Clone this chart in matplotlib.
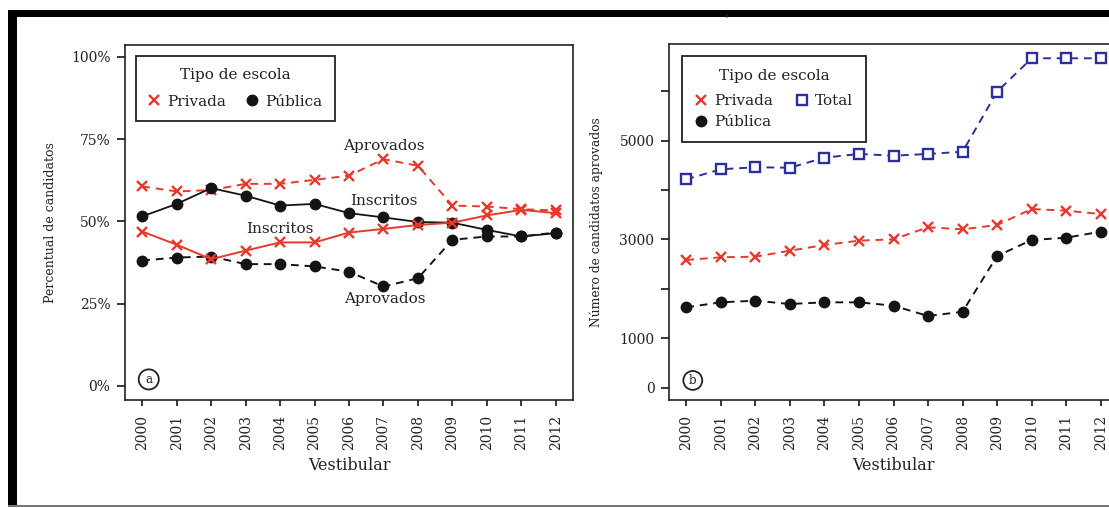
import matplotlib
matplotlib.use("Agg")
import matplotlib.pyplot as plt
from matplotlib.patches import Rectangle
from matplotlib.lines import Line2D

plt.rcParams['font.family'] = ['DejaVu Serif']

years = [2000, 2001, 2002, 2003, 2004, 2005, 2006, 2007, 2008, 2009, 2010, 2011, 2012]
year_labels = [str(y) for y in years]

# Panel a: percent of candidates
privada_inscritos = [46.9, 42.9, 38.5, 41.1, 43.6, 43.6, 46.6, 47.7, 48.9, 49.6, 51.8, 53.5, 52.5]
publica_inscritos = [51.5, 55.3, 60.1, 57.8, 54.8, 55.3, 52.5, 51.2, 49.8, 49.6, 47.4, 45.4, 46.4]
privada_aprovados = [60.6, 59.1, 59.5, 61.4, 61.4, 62.6, 63.9, 68.9, 66.9, 54.8, 54.5, 53.7, 53.3]
publica_aprovados = [38.1, 39.0, 39.3, 37.0, 37.0, 36.3, 34.7, 30.2, 32.7, 44.4, 45.4, 45.4, 46.6]

# Panel b: number of approved candidates
privada_num = [2585, 2640, 2652, 2773, 2889, 2976, 3004, 3247, 3206, 3293, 3617, 3583, 3516]
publica_num = [1627, 1728, 1761, 1694, 1728, 1728, 1660, 1451, 1538, 2666, 2990, 3036, 3158]
total_num = [4218, 4421, 4462, 4453, 4656, 4731, 4696, 4731, 4777, 5992, 6668, 6668, 6668]

pct_ticks = [0, 25, 50, 75, 100]
pct_labels = ['0%', '25%', '50%', '75%', '100%']
num_ticks = [0, 1000, 2000, 3000, 4000, 5000, 6000]
num_labels = ['0', '1000', '', '3000', '', '5000', '']

RED = '#e8372c'
BLACK = '#141414'
BLUE = '#2b2f9c'
TXT = '#222222'

W, H = 1109, 508
fig = plt.figure(figsize=(W / 100, H / 100), dpi=100)
fig.patch.set_facecolor('white')

def fx(px):
    return px / W

def fy(py):
    return 1 - py / H

ax_a = fig.add_axes([fx(125), fy(400), fx(573) - fx(125), fy(45) - fy(400)])
ax_b = fig.add_axes([fx(669), fy(400), fx(1118) - fx(669), fy(44) - fy(400)])

x = list(range(len(years)))
dash = (0, (4, 3))
ms_x = 6.5
ms_o = 7.5

# Panel a
ax_a.plot(x, privada_aprovados, color=RED, ls=dash, lw=1.4, marker='x', ms=ms_x, mew=1.7)
ax_a.plot(x, publica_aprovados, color=BLACK, ls=dash, lw=1.4, marker='o', ms=ms_o)
ax_a.plot(x, publica_inscritos, color=BLACK, ls='-', lw=1.3, marker='o', ms=ms_o)
ax_a.plot(x, privada_inscritos, color=RED, ls='-', lw=1.4, marker='x', ms=ms_x, mew=1.7)

ax_a.set_xlim(-0.5, 12.5)
ax_a.set_ylim(-4.3, 103.6)
ax_a.set_yticks(pct_ticks)
ax_a.set_yticklabels(pct_labels)
ax_a.set_ylabel('Percentual de candidatos', fontsize=9, labelpad=10, color=TXT)

ann = dict(ha='center', va='center', fontsize=11, color=TXT)
ax_a.text(7, 73, 'Aprovados', **ann)
ax_a.text(7, 56.2, 'Inscritos', **ann)
ax_a.text(4, 47.8, 'Inscritos', **ann)
ax_a.text(7.05, 26.3, 'Aprovados', **ann)

# Panel b
ax_b.plot(x, total_num, color=BLUE, ls=dash, lw=1.4, marker='s', ms=6.5, mfc='white', mec=BLUE, mew=1.7)
ax_b.plot(x, privada_num, color=RED, ls=dash, lw=1.4, marker='x', ms=ms_x, mew=1.7)
ax_b.plot(x, publica_num, color=BLACK, ls=dash, lw=1.4, marker='o', ms=ms_o)

ax_b.set_xlim(-0.5, 12.5)
ax_b.set_ylim(-249, 6957)
ax_b.set_yticks(num_ticks)
ax_b.set_yticklabels(num_labels)
ax_b.set_ylabel('Número de candidatos aprovados', fontsize=8.8, labelpad=12, color=TXT)

for ax in (ax_a, ax_b):
    ax.set_xticks(x)
    ax.set_xticklabels(year_labels, rotation=90, fontsize=10, color=TXT)
    ax.tick_params(axis='y', labelsize=10, length=6, width=1.1, direction='out', pad=4.5, labelcolor=TXT)
    ax.tick_params(axis='x', length=4, width=1.1, direction='out', pad=6.5)
    ax.set_xlabel('Vestibular', fontsize=11.5, labelpad=5, color=TXT)
    for s in ax.spines.values():
        s.set_linewidth(1.2)
        s.set_color(TXT)

# Legends
h_priv = Line2D([], [], color=RED, ls='none', marker='x', ms=ms_x, mew=1.7)
h_pub = Line2D([], [], color=BLACK, ls='none', marker='o', ms=ms_o)
h_tot = Line2D([], [], color=BLUE, ls='none', marker='s', ms=6.5, mfc='white', mec=BLUE, mew=1.7)

leg_a = ax_a.legend([h_priv, h_pub], ['Privada', 'Pública'], title='Tipo de escola', ncol=2,
                    loc='upper left', bbox_to_anchor=(11 / 448, (400 - 56) / 355), borderaxespad=0,
                    fancybox=False, edgecolor=TXT, fontsize=11, title_fontsize=11,
                    handlelength=0.8, handletextpad=0.45, columnspacing=1.3,
                    borderpad=0.8, labelspacing=0.3, framealpha=1)
leg_a.get_frame().set_linewidth(1.3)
leg_a.get_title().set_color(TXT)
leg_a._legend_box.sep = 9
for t in leg_a.get_texts():
    t.set_color(TXT)

leg_b = ax_b.legend([h_priv, h_pub, h_tot], ['Privada', 'Pública', 'Total'], title='Tipo de escola',
                    ncol=2, loc='upper left', bbox_to_anchor=(13 / 449, (400 - 56) / 356), borderaxespad=0,
                    fancybox=False, edgecolor=TXT, fontsize=11, title_fontsize=11,
                    handlelength=0.8, handletextpad=0.45, columnspacing=1.5,
                    borderpad=0.85, labelspacing=0.45, framealpha=1)
leg_b.get_frame().set_linewidth(1.3)
leg_b.get_title().set_color(TXT)
leg_b._legend_box.sep = 8
for t in leg_b.get_texts():
    t.set_color(TXT)

# Panel tags
ax_a.text(0.053, 0.058, 'a', transform=ax_a.transAxes, ha='center', va='center', fontsize=8.5,
          color=TXT, bbox=dict(boxstyle='circle,pad=0.3', fc='white', ec=TXT, lw=1.3))
ax_b.text(0.053, 0.055, 'b', transform=ax_b.transAxes, ha='center', va='center', fontsize=8.5,
          color=TXT, bbox=dict(boxstyle='circle,pad=0.25', fc='white', ec=TXT, lw=1.3))

# Outer frame remnants
fig.add_artist(Rectangle((fx(8), fy(17)), fx(W) - fx(8), fy(10) - fy(17),
                         transform=fig.transFigure, color='black', lw=0))
fig.add_artist(Rectangle((fx(8), fy(506)), fx(17) - fx(8), fy(10) - fy(506),
                         transform=fig.transFigure, color='black', lw=0))
fig.add_artist(Rectangle((fx(8), fy(507)), fx(W) - fx(8), fy(505) - fy(507),
                         transform=fig.transFigure, color='#777777', lw=0))
fig.text(fx(727), fy(20), "'", ha='center', va='center', fontsize=9, color='#333333')

fig.savefig('out.png', dpi=100)
